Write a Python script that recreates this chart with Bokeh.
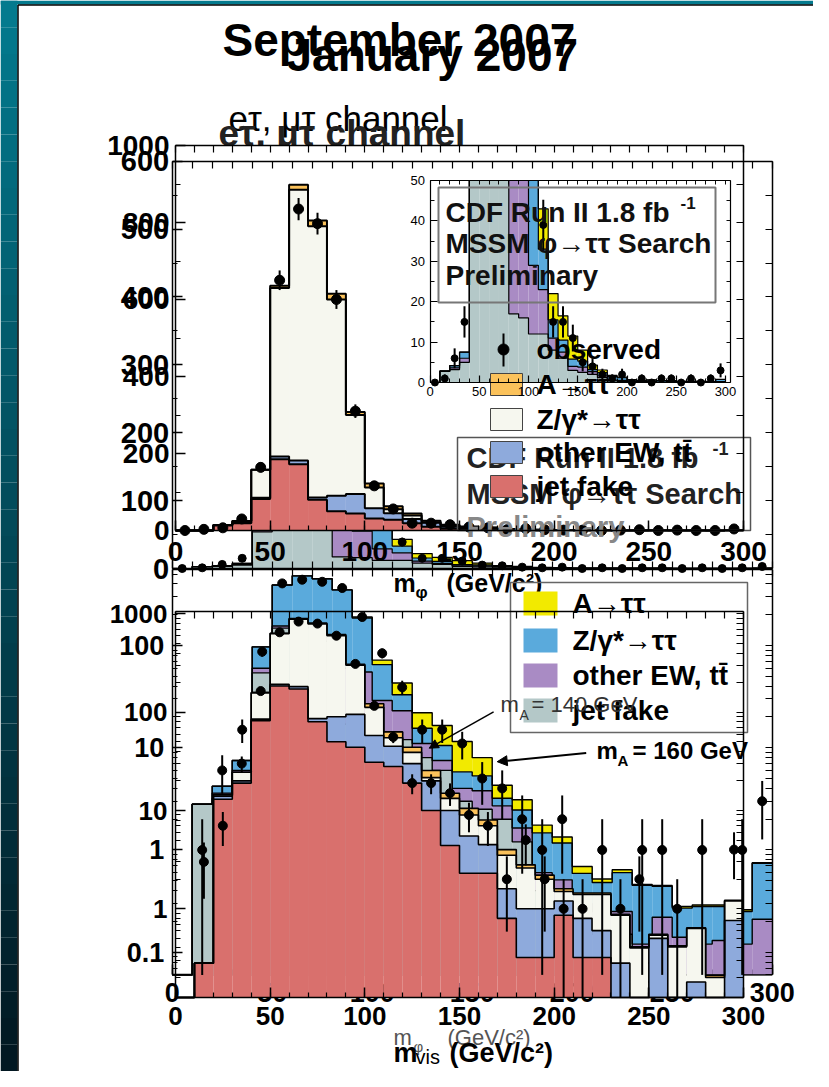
import numpy as np
from bokeh.plotting import figure
from bokeh.models import (Range1d, LinearAxis, FixedTicker, LogScale, LinearScale,
                          Arrow, NormalHead, CustomJSTickFormatter)
from bokeh.core.properties import value
from bokeh.embed import file_html
from bokeh.resources import INLINE

# ---------------------------------------------------------------- data
bin_edges = list(range(0, 310, 10))          # 10 GeV bins, 0-300 GeV

# September 2007 slide (events per 10 GeV)
sep_jet_fake = [0, 0.28, 13, 19, 82, 185, 172, 80, 50, 44, 31, 28, 19, 10, 4.4, 2.3, 2.3, 0.8,
                0.32, 0.32, 0.86, 0.32, 0.32, 0, 0, 0, 0, 0, 0, 0]
sep_other_ew = [0, 0, 1, 1, 3, 7, 10, 6, 40, 51, 27, 17, 11, 10, 5.6, 3.2, 2.2, 0.8, 0.68, 0.68,
                0.34, 0.48, 0.28, 0.28, 0, 0.5, 0, 0.18, 0, 0.76]
sep_ztautau = [0, 0, 0.5, 4.5, 73, 438, 703, 704, 510, 205, 54, 10, 9, 1.6, 3.3, 3.5, 2.5, 1.9,
               1.6, 1.0, 0.3, 0.6, 0.8, 0.58, 0.4, 0.04, 0.41, 0.45, 0.2, 0.44]
sep_signal = [0, 0, 0, 0, 0, 6, 13, 15, 15, 8, 10, 8, 5, 3.9, 1.7, 1.5, 1, 0.5, 0.2, 0.2, 0.1,
              0.05, 0.05, 0.02, 0.01, 0.01, 0.01, 0.01, 0.01, 0.02]
sep_observed = [0, 3, 7, 30, 164, 650, 835, 797, 600, 310, 116, 56, 19, 19, 15, 9, 7, 2, 5, 2,
                1, 1, 0, 1, 2, 0, 1, 0, 0, 4]

# January 2007 slide (events per 10 GeV)
jan_jet_fake = [0, 2.8, 3.2, 5, 54, 148, 150, 110, 17, 16, 12, 12, 8, 6, 3, 2.5, 2, 1.2, 0.4,
                0.3, 0.2, 0.15, 0.15, 0, 0, 0, 0, 0, 0, 0]
jan_other_ew = [0, 0, 0.4, 1, 6, 7, 10, 10, 43, 39, 17, 11, 3, 1.5, 1, 1.3, 0.7, 0.44, 0.2, 0.21,
                0.1, 0.1, 0.1, 0.12, 0.22, 0.14, 0.12, 0.13, 0.12, 0.21]
jan_ztautau = [0, 0, 0.6, 1.5, 37, 235, 320, 330, 290, 131, 36, 10, 4.5, 3, 1.8, 1.5, 0.5, 0.82,
               0.87, 0.66, 0.29, 0.23, 0.35, 0.33, 0.22, 0.13, 0.16, 0.15, 0.13, 0.53]
jan_signal = [0, 0, 0, 0, 0, 0, 0, 0, 0, 4, 7, 10, 6.5, 6, 5.7, 2.7, 1.1, 0.64, 0.28, 0.17, 0.1,
              0.04, 0.04, 0.01, 0.01, 0.01, 0.01, 0.01, 0.01, 0.01]
jan_observed = [0, 1, 6, 15, 87, 405, 440, 420, 365, 190, 84, 39, 15, 15, 11, 5, 4, 2, 1, 2, 0,
                1, 0, 1, 1, 0, 1, 0, 1, 3]

# tick values
x_ticks = [0, 50, 100, 150, 200, 250, 300]
x_minor = list(range(0, 310, 10))
sep_lin_ticks = [0, 200, 400, 600, 800, 1000]
sep_lin_minor = list(range(0, 1001, 100))
jan_lin_ticks = [0, 100, 200, 300, 400, 500, 600]
jan_lin_minor = list(range(0, 601, 50))
inset_y_ticks = [0, 10, 20, 30, 40, 50]
inset_y_minor = list(range(0, 51, 5))
sep_log_ticks = [1, 10, 100, 1000]
jan_log_ticks = [0.1, 1, 10, 100]
log_minor = [m * 10.0 ** e for e in range(-2, 4) for m in range(1, 10)]

sep_labels = ["observed", "A\u2192\u03c4\u03c4", "Z/\u03b3*\u2192\u03c4\u03c4",
              "other EW, tt\u0304", "jet fake"]
jan_labels = ["A\u2192\u03c4\u03c4", "Z/\u03b3*\u2192\u03c4\u03c4", "other EW, tt\u0304", "jet fake"]

# ---------------------------------------------------------------- styles
SEP_JF, SEP_EW, SEP_Z, SEP_A = "#d9706d", "#8eaadc", "#f6f7ef", "#fbc25b"
JAN_JF, JAN_EW, JAN_Z, JAN_A = "#b4c8c8", "#a98bc4", "#5aaadc", "#f2ea00"
FONT = "Liberation Sans"

W, H = 813, 1071

p = figure(width=W, height=H, x_range=Range1d(0, W), y_range=Range1d(H, 0),
           output_backend="svg", toolbar_location=None,
           x_axis_location=None, y_axis_location=None, min_border=0)
p.outline_line_color = None
p.background_fill_color = "white"
p.border_fill_color = "white"
p.grid.visible = False


def add_x(name, px0, px1, v0, v1):
    s = (px1 - px0) / (v1 - v0)
    start = v0 - px0 / s
    p.extra_x_ranges[name] = Range1d(start, start + W / s)


def add_y(name, py_a, py_b, va, vb, log=False):
    f = np.log10 if log else (lambda v: v)
    ya, yb = H - py_a, H - py_b
    s = (yb - ya) / (f(vb) - f(va))
    start = f(va) - ya / s
    end = start + H / s
    if log:
        start, end = 10 ** start, 10 ** end
    p.extra_y_ranges[name] = Range1d(start, end)
    p.extra_y_scales[name] = LogScale() if log else LinearScale()


add_x("sx", 175, 743, 0, 300)
add_x("jx", 171.7, 771.7, 0, 300)
add_x("ix", 429.5, 725, 0, 300)
add_y("su", 530, 145, 0, 1000)
add_y("ju", 568, 160.7, 0, 600)
add_y("iy", 382, 180, 0, 50)
add_y("sl", 908.3, 613.4, 1, 1000, log=True)
add_y("jl", 951.7, 645, 0.1, 100, log=True)

SU = dict(xr="sx", yr="su", xlim=(0, 300), ylim=(0, 1000))
JU = dict(xr="jx", yr="ju", xlim=(0, 300), ylim=(0, 600))
IN = dict(xr="ix", yr="iy", xlim=(0, 305), ylim=(0, 50))
SL = dict(xr="sx", yr="sl", xlim=(0, 300), ylim=(0.125, 1050))
JL = dict(xr="jx", yr="jl", xlim=(0, 300), ylim=(0.06, 560))

edges = np.array(bin_edges, float)
centers = (edges[:-1] + edges[1:]) / 2


def stack(pl, comps, colors, lw=1.6):
    lo, hi = pl["ylim"]
    kw = dict(x_range_name=pl["xr"], y_range_name=pl["yr"])
    cum = np.zeros(len(centers))
    prev = np.full(len(centers), lo)
    tops = []
    for vals, col in zip(comps, colors):
        cum = cum + np.array(vals, float)
        top = np.clip(cum, lo, hi)
        p.quad(left=edges[:-1], right=edges[1:], bottom=prev, top=top,
               fill_color=col, line_color=None, **kw)
        tops.append(top)
        prev = top
    for top in tops:
        p.step(x=edges, y=np.append(top, top[-1]), mode="after",
               line_color="black", line_width=lw, **kw)


def points(pl, obs, show_zero=False, size=9):
    lo, hi = pl["ylim"]
    kw = dict(x_range_name=pl["xr"], y_range_name=pl["yr"])
    n = np.array(obs, float)
    err = np.sqrt(n)
    m = (n <= hi) & ((n > 0) | show_zero)
    ylo = np.clip(n - err, lo, hi)
    yhi = np.clip(n + err, lo, hi)
    p.segment(x0=centers[m], y0=ylo[m], x1=centers[m], y1=yhi[m],
              line_color="black", line_width=2, **kw)
    p.scatter(x=centers[m], y=n[m], size=size, color="black", **kw)


def frame(pl, xt, xm, yt, ym, size, xlab=True, ylab=True, bold=True, lw=1.5,
          tin=10, tmin=5, xstand=4, ystand=5, log=False, bottom_level=None):
    xlim, ylim = pl["xlim"], pl["ylim"]
    for side in ("below", "above", "left", "right"):
        horiz = side in ("below", "above")
        loc = {"below": ylim[0], "above": ylim[1], "left": xlim[0], "right": xlim[1]}[side]
        lim = xlim if horiz else ylim
        labelled = (side == "below" and xlab) or (side == "left" and ylab)
        majors = [v for v in (xt if horiz else yt) if lim[0] <= v <= lim[1]]
        minors = [v for v in (xm if horiz else ym) if lim[0] <= v <= lim[1]]
        if labelled:
            tk = FixedTicker(ticks=majors, minor_ticks=minors)
        else:
            tk = FixedTicker(ticks=[], minor_ticks=sorted(set(majors) | set(minors)))
        ax = LinearAxis(x_range_name=pl["xr"], y_range_name=pl["yr"], fixed_location=loc,
                        bounds=lim, ticker=tk)
        ax.axis_line_width = lw
        ax.axis_line_color = "black"
        ax.major_tick_in = tin
        ax.major_tick_out = 0
        ax.major_tick_line_width = lw
        ax.minor_tick_in = tmin if labelled else int(tin * 0.7)
        ax.minor_tick_out = 0
        ax.minor_tick_line_width = lw * 0.8
        ax.major_label_text_font = FONT
        ax.major_label_text_font_size = f"{size}px"
        ax.major_label_text_font_style = "bold" if bold else "normal"
        ax.major_label_text_color = "black"
        ax.major_label_standoff = xstand if horiz else ystand
        if log and not horiz:
            ax.formatter = CustomJSTickFormatter(
                code="return tick < 1 ? tick.toFixed(1) : tick.toFixed(0)")
        if side == "below" and bottom_level:
            ax.level = bottom_level
        p.add_layout(ax, side)


def txt(x, y, s, size, bold=False, color="black", align="left", font=FONT, alpha=1.0):
    p.text(x=[x], y=[y], text=[s], text_font=value(font), text_font_size=f"{size}px",
           text_font_style="bold" if bold else "normal", text_color=color,
           text_align=align, text_baseline="middle", text_alpha=alpha)


# ---------------------------------------------------------------- slide background
strip = np.linspace(0, H, 41)
c0, c1 = np.array([4, 122, 142]), np.array([2, 24, 34])
fr = np.linspace(0, 1, 40)
strip_cols = ["#%02x%02x%02x" % tuple((c0 + (c1 - c0) * t).astype(int)) for t in fr]
p.quad(left=0, right=17, top=strip[:-1], bottom=strip[1:], fill_color=strip_cols,
       line_color=None)
p.quad(left=0, right=W, top=0, bottom=4, fill_color="#047a8e", line_color=None)
p.segment(x0=[17.5], y0=[4.5], x1=[17.5], y1=[H], line_color="black", line_width=1.5)
p.segment(x0=[17.5], y0=[4.5], x1=[W], y1=[4.5], line_color="black", line_width=1.5)

# ---------------------------------------------------------------- titles
txt(222, 39, "September 2007", 46, bold=True)
txt(286, 54, "January 2007", 46, bold=True)
txt(228, 118, "e\u03c4, \u03bc\u03c4 channel", 35)
txt(218, 133, "e\u03c4, \u03bc\u03c4 channel", 37, bold=True, color="#222")

# ---------------------------------------------------------------- upper plots
stack(JU, [jan_jet_fake, jan_other_ew, jan_ztautau, jan_signal], [JAN_JF, JAN_EW, JAN_Z, JAN_A], lw=1.2)
points(JU, jan_observed, show_zero=True, size=8)
p.quad(left=0, right=300, bottom=0, top=1000, fill_color="white", line_color=None,
       x_range_name="sx", y_range_name="su")
stack(SU, [sep_jet_fake, sep_other_ew, sep_ztautau, sep_signal], [SEP_JF, SEP_EW, SEP_Z, SEP_A], lw=2)
points(SU, sep_observed, show_zero=True, size=10)

frame(JU, x_ticks, x_minor, jan_lin_ticks, jan_lin_minor, 29, xlab=False, ystand=3)
frame(SU, x_ticks, x_minor, sep_lin_ticks, sep_lin_minor, 28, xstand=11, ystand=6)
txt(393, 582, "m", 25, bold=True)
txt(415, 592, "\u03c6", 17, bold=True)
txt(446, 582, "(GeV/c\u00b2)", 25, bold=True)

# inset (January)
p.quad(left=0, right=305, bottom=0, top=50, fill_color="white", line_color=None,
       x_range_name="ix", y_range_name="iy")
stack(IN, [jan_jet_fake, jan_other_ew, jan_ztautau, jan_signal], [JAN_JF, JAN_EW, JAN_Z, JAN_A], lw=1.2)
points(IN, jan_observed, show_zero=True, size=7)
frame(IN, x_ticks, x_minor, inset_y_ticks, inset_y_minor, 13, bold=False, lw=1.2,
      tin=7, tmin=4, xstand=4, ystand=5)
p.quad(left=438, right=715, top=187, bottom=302, fill_color=None, line_color="#777", line_width=2)
txt(445, 212, "CDF Run II  1.8 fb", 28, bold=True, color="#111")
txt(680, 202, "-1", 17, bold=True, color="#111")
txt(445, 243, "MSSM \u03c6\u2192\u03c4\u03c4 Search", 28, bold=True, color="#111")
txt(445, 275, "Preliminary", 28, bold=True, color="#111")

# September legend + CDF box
p.quad(left=457, right=750, top=437, bottom=530, fill_color=None, line_color="#555", line_width=1.5)
txt(466, 457, "CDF Run II  1.8 fb", 29, bold=True, color="#222")
txt(712, 448, "-1", 18, bold=True, color="#222")
txt(466, 493, "MSSM \u03c6\u2192\u03c4\u03c4 Search", 29, bold=True, color="#222")
txt(466, 526, "Preliminary", 29, bold=True, color="#888")
sep_rows = [349, 384, 419, 452, 486]
p.segment(x0=[503], y0=[333], x1=[503], y1=[366], line_color="black", line_width=2)
p.scatter(x=[503], y=[349], size=11, color="black")
p.quad(left=490, right=522, top=[y - 11 for y in sep_rows[1:]],
       bottom=[y + 11 for y in sep_rows[1:]],
       fill_color=[SEP_A, SEP_Z, SEP_EW, SEP_JF], line_color="#444", line_width=1)
for y, lab in zip(sep_rows, sep_labels):
    txt(536, y, lab, 28, bold=True)

# ---------------------------------------------------------------- lower plots
stack(JL, [jan_jet_fake, jan_other_ew, jan_ztautau, jan_signal], [JAN_JF, JAN_EW, JAN_Z, JAN_A], lw=1.4)
stack(SL, [sep_jet_fake, sep_other_ew, sep_ztautau, sep_signal], [SEP_JF, SEP_EW, SEP_Z, SEP_A], lw=1.6)
points(JL, jan_observed, size=9)
points(SL, sep_observed, size=9)
frame(JL, x_ticks, x_minor, jan_log_ticks, log_minor, 27, log=True, xstand=8, ystand=8,
      bottom_level="underlay")
frame(SL, x_ticks, x_minor, sep_log_ticks, log_minor, 26, log=True, xstand=9, ystand=8)

# January legend
p.quad(left=510, right=747, top=582, bottom=732, fill_color=None, line_color="#666", line_width=1.5)
jan_rows = [603, 640, 675, 710]
p.quad(left=523, right=557, top=[y - 12 for y in jan_rows], bottom=[y + 12 for y in jan_rows],
       fill_color=[JAN_A, JAN_Z, JAN_EW, JAN_JF], line_color=None)
for y, lab in zip(jan_rows, jan_labels):
    txt(572, y, lab, 28, bold=True)

# mass-point annotations
p.add_layout(Arrow(end=NormalHead(size=9, fill_color="black", line_color="black"),
                   x_start=160.7, y_start=22.4, x_end=128.5, y_end=9.9,
                   line_width=1.5, x_range_name="jx", y_range_name="jl"))
p.add_layout(Arrow(end=NormalHead(size=10, fill_color="black", line_color="black"),
                   x_start=207, y_start=8.9, x_end=162.5, y_end=7.3,
                   line_width=2, x_range_name="jx", y_range_name="jl"))
txt(500, 704, "m", 22, color="#333")
txt(519, 714, "A", 14, color="#333")
txt(531, 704, "= 140 GeV", 22, color="#333")
txt(596, 750, "m", 24, bold=True)
txt(617, 760, "A", 15, bold=True)
txt(632, 750, "= 160 GeV", 24, bold=True)

# lower axis titles
txt(393, 1037, "m", 22, color="#555")
txt(413, 1046, "\u03c6", 15, color="#555")
txt(447, 1037, "(GeV/c\u00b2)", 22, color="#555")
txt(393, 1052, "m", 27, bold=True)
txt(415, 1056, "vis", 20)
txt(449, 1052, "(GeV/c\u00b2)", 27, bold=True)

open("out.html", "w").write(file_html(p, INLINE))
